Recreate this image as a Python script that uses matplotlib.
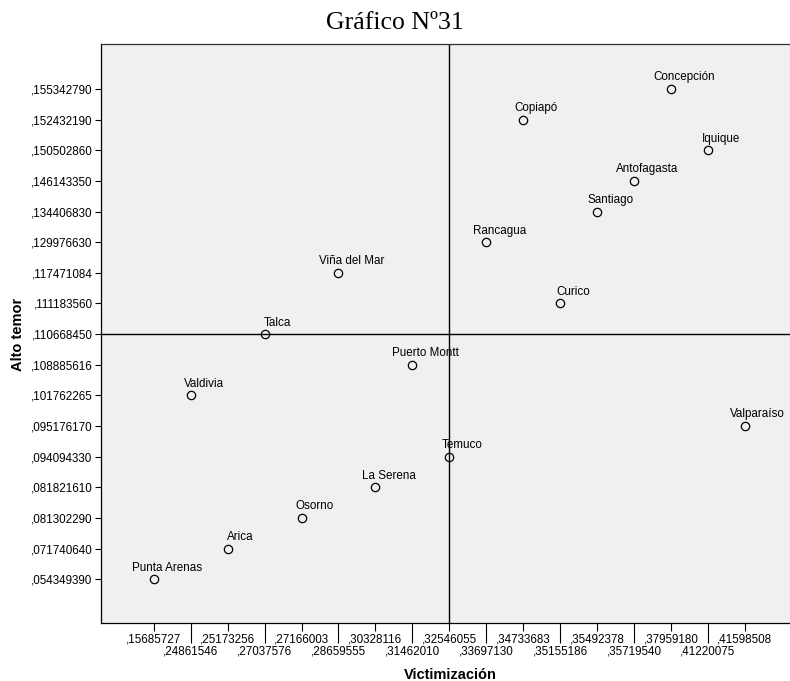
import numpy as np
import matplotlib
matplotlib.use('Agg')
import matplotlib.pyplot as plt

cities = ["Punta Arenas", "Arica", "Osorno", "La Serena", "Temuco", "Valparaíso",
          "Valdivia", "Puerto Montt", "Talca", "Curico", "Viña del Mar", "Rancagua",
          "Santiago", "Antofagasta", "Iquique", "Copiapó", "Concepción"]
victimizacion = [0.15685727, 0.25173256, 0.27166003, 0.30328116, 0.32546055, 0.41598508,
                 0.24861546, 0.31462010, 0.27037576, 0.35155186, 0.28659555, 0.33697130,
                 0.35492378, 0.35719540, 0.41220075, 0.34733683, 0.37959180]
alto_temor = [0.054349390, 0.071740640, 0.081302290, 0.081821610, 0.094094330, 0.095176170,
              0.101762265, 0.108885616, 0.110668450, 0.111183560, 0.117471084, 0.129976630,
              0.134406830, 0.146143350, 0.150502860, 0.152432190, 0.155342790]

# SPSS-style ordinal axes: each distinct value is a category
x_levels = sorted(victimizacion)
y_levels = sorted(alto_temor)
xpos = [x_levels.index(v) for v in victimizacion]
ypos = [y_levels.index(v) for v in alto_temor]

def lab(v, nd):
    return ',' + f'{v:.{nd}f}'.split('.')[1]

W, H = 790, 681
fig = plt.figure(figsize=(W / 100, H / 100), dpi=100)
L, R, T, B = 100.6, 798, 44, 623
ax = fig.add_axes([L / W, 1 - B / H, (R - L) / W, (B - T) / H])
ax.set_facecolor('#f0f0f0')
ax.set_xlim(-1.44, len(x_levels) - 1 + 1.44)
ax.set_ylim(-1.43, len(y_levels) - 1 + 1.47)

# reference lines at medians
xm = np.searchsorted(x_levels, np.median(victimizacion))
ym = np.searchsorted(y_levels, np.median(alto_temor))
ax.axvline(xm, color='black', lw=1.0, zorder=1)
ax.axhline(ym, color='black', lw=1.0, zorder=1)

ax.plot(xpos, ypos, 'o', ms=6, mfc='none', mec='black', mew=0.9, zorder=3)
for c, xp, yp in zip(cities, xpos, ypos):
    ax.annotate(c, (xp, yp), xytext=(9.4, 6.2), textcoords='offset points',
                ha='center', va='baseline', fontsize=8.4, family='Liberation Sans')

# ticks
ev = list(range(0, len(x_levels), 2))
od = list(range(1, len(x_levels), 2))
ax.set_xticks(ev, [lab(x_levels[i], 8) for i in ev])
ax.set_xticks(od, [lab(x_levels[i], 8) for i in od], minor=True)
ax.tick_params(axis='x', which='major', length=5.8, width=0.8, pad=2.0, labelsize=8.4)
ax.tick_params(axis='x', which='minor', length=14.4, width=0.8, pad=1.5, labelsize=8.4)
ax.set_yticks(range(len(y_levels)), [lab(v, 9) for v in y_levels])
ax.tick_params(axis='y', length=4.3, width=0.8, pad=1.5, labelsize=8.4)
for t in ax.get_xticklabels(which='both') + ax.get_yticklabels():
    t.set_family('Liberation Sans')

for s in ['left', 'bottom']:
    ax.spines[s].set_linewidth(0.9)
ax.spines['top'].set_linewidth(0.9)
ax.spines['top'].set_color('#333333')
ax.spines['right'].set_visible(False)

fig.text(395 / W, 1 - 23 / H, 'Gráfico Nº31', ha='center', va='center',
         fontsize=18.5, family='Liberation Serif')
fig.text(450 / W, 1 - 675 / H, 'Victimización', ha='center', va='center',
         fontsize=10.5, fontweight='bold', family='Liberation Sans')
fig.text(18 / W, 1 - 334 / H, 'Alto temor', ha='center', va='center', rotation=90,
         fontsize=10.5, fontweight='bold', family='Liberation Sans')

fig.savefig('out.png', dpi=100)
